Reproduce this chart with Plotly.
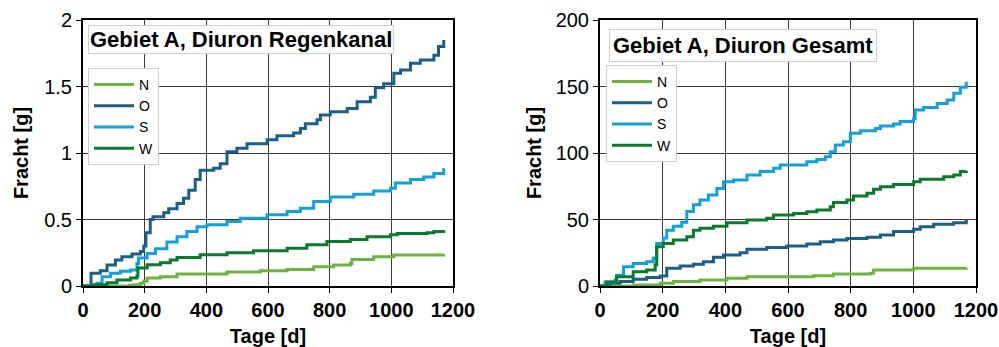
import plotly.graph_objects as go

# ---------------- data: left panel (Regenkanal) ----------------
L_N_d = [0, 150, 164, 186, 197, 208, 251, 305, 467, 575, 662, 748, 813, 867, 872, 943, 1008, 1170]
L_N_v = [0, 0.005, 0.01, 0.02, 0.035, 0.06, 0.07, 0.09, 0.105, 0.115, 0.125, 0.145, 0.158, 0.17, 0.2, 0.22, 0.233, 0.238]

L_O_d = [0, 26, 56, 78, 105, 126, 159, 186, 197, 204, 218, 227, 262, 278, 305, 326, 343, 364, 380, 424, 445, 467, 499, 532,
         597, 629, 683, 705, 721, 759, 770, 802, 857, 889, 932, 948, 975, 1008, 1030, 1062, 1094, 1138, 1153, 1170]
L_O_v = [0, 0.095, 0.115, 0.158, 0.195, 0.22, 0.24, 0.26, 0.3, 0.4, 0.5, 0.52, 0.55, 0.58, 0.62, 0.66, 0.72, 0.8, 0.87, 0.885, 0.92, 1.01, 1.035, 1.07,
         1.1, 1.13, 1.15, 1.185, 1.22, 1.25, 1.285, 1.31, 1.335, 1.385, 1.42, 1.49, 1.52, 1.6, 1.625, 1.675, 1.7, 1.735, 1.8, 1.85]

L_S_d = [0, 45, 62, 89, 121, 154, 175, 180, 208, 235, 272, 305, 337, 370, 402, 467, 510, 597, 662, 705, 748, 802, 878, 943, 997, 1013, 1062, 1105, 1138, 1170]
L_S_v = [0, 0.02, 0.07, 0.095, 0.11, 0.12, 0.17, 0.21, 0.245, 0.28, 0.33, 0.37, 0.41, 0.445, 0.46, 0.485, 0.51, 0.535, 0.56, 0.585, 0.635, 0.67, 0.69, 0.715, 0.735, 0.775, 0.8, 0.82, 0.845, 0.885]

L_W_d = [0, 35, 78, 110, 154, 175, 178, 208, 251, 283, 305, 380, 467, 553, 662, 726, 791, 867, 921, 997, 1019, 1116, 1138, 1170]
L_W_v = [0, 0.01, 0.025, 0.045, 0.06, 0.075, 0.135, 0.16, 0.175, 0.195, 0.215, 0.235, 0.25, 0.265, 0.283, 0.31, 0.335, 0.35, 0.37, 0.385, 0.395, 0.4, 0.41, 0.42]

# ---------------- data: right panel (Gesamt) ----------------
R_N_d = [0, 106, 192, 234, 319, 405, 469, 639, 682, 745, 863, 873, 1001, 1169]
R_N_v = [0, 0.7, 2, 3.3, 4.5, 5.8, 7, 7, 7.8, 9, 9.5, 12, 13.3, 13.8]

R_O_d = [0, 32, 64, 106, 149, 192, 213, 256, 298, 330, 362, 394, 447, 469, 532, 596, 660, 703, 745, 788, 852, 895, 937, 1001, 1022, 1065, 1129, 1169]
R_O_v = [0, 2, 3.3, 5, 6.3, 7.5, 13.3, 15, 16.3, 18.3, 21.6, 23.3, 25, 27.6, 29, 30, 31.6, 33.3, 34.6, 35.8, 36.6, 38.3, 40.9, 42.6, 44.6, 46.4, 47.6, 49.6]

R_S_d = [0, 16, 48, 53, 75, 106, 149, 170, 181, 202, 213, 234, 261, 277, 298, 319, 346, 373, 394, 426, 469, 511, 554, 575, 639, 660, 692, 719,
         735, 751, 777, 799, 831, 879, 895, 937, 958, 1001, 1006, 1033, 1076, 1108, 1129, 1150, 1169]
R_S_v = [0, 3, 4.5, 8, 14.5, 17, 18.3, 21, 32, 36, 42, 45, 48, 56, 61, 64.7, 68.4, 73.4, 78.4, 79.7, 83.5, 86, 88.5, 91, 91, 93.5, 95.2, 97.2,
         101, 106, 108.5, 114.8, 116.8, 118.5, 120.3, 121.8, 123.6, 126, 132.3, 134.3, 137.3, 139.8, 144.9, 149.4, 153.6]

R_W_d = [0, 21, 53, 106, 149, 176, 181, 202, 234, 277, 298, 319, 362, 405, 469, 532, 554, 618, 660, 692, 735, 745, 788, 809, 852, 873, 895,
         937, 1001, 1022, 1097, 1129, 1150, 1169]
R_W_v = [0, 3, 7, 10.8, 12, 15.8, 29.6, 32, 34.6, 37, 42, 43.4, 45, 47.6, 49.6, 50.9, 53.4, 54.6, 55.9, 57.1, 59.6, 62.7, 64.7, 67.7, 69.7, 72.7, 74.7,
         76.4, 78.4, 80.2, 82.2, 83.5, 86, 86.7]

series_names = ["N", "O", "S", "W"]
colors = {"N": "#6DB33F", "O": "#1C5E88", "S": "#14A0D8", "W": "#0B7A2E"}

titles = ["Gebiet A, Diuron Regenkanal", "Gebiet A, Diuron Gesamt"]
x_ticks = [0, 200, 400, 600, 800, 1000, 1200]
yL_ticks = [0, 0.5, 1, 1.5, 2]
yL_labels = ["0", "0.5", "1", "1.5", "2"]
yR_ticks = [0, 50, 100, 150, 200]

FONT = "Liberation Sans, Arial, sans-serif"

fig = go.Figure()

left = {"N": (L_N_d, L_N_v), "O": (L_O_d, L_O_v), "S": (L_S_d, L_S_v), "W": (L_W_d, L_W_v)}
right = {"N": (R_N_d, R_N_v), "O": (R_O_d, R_O_v), "S": (R_S_d, R_S_v), "W": (R_W_d, R_W_v)}

for name in series_names:
    d, v = left[name]
    fig.add_trace(go.Scatter(x=d, y=v, mode="lines", name=name, line=dict(color=colors[name], width=3, shape="hv"),
                             xaxis="x", yaxis="y", legend="legend"))
for name in series_names:
    d, v = right[name]
    fig.add_trace(go.Scatter(x=d, y=v, mode="lines", name=name, line=dict(color=colors[name], width=3, shape="hv"),
                             xaxis="x2", yaxis="y2", legend="legend2"))

W, H = 999, 347


def px(x):
    return x / W


def py(y):
    return 1 - y / H


xdomL = [px(83), px(453)]
xdomR = [px(600), px(976)]
ydom = [py(286), py(20)]

axis_common = dict(showline=True, linecolor="black", linewidth=2, mirror=True, showgrid=True,
                   gridcolor="#3a3a3a", gridwidth=1, zeroline=False, ticks="outside", ticklen=5,
                   tickcolor="black", tickwidth=1, automargin=False)

xa = dict(axis_common, range=[0, 1200], tickvals=x_ticks,
          tickfont=dict(family=FONT, size=20, color="black", weight="bold"),
          title=dict(text="Tage [d]", font=dict(family=FONT, size=20, color="black", weight="bold"), standoff=9))
ya_font = dict(family=FONT, size=20, color="black")
yt_font = dict(family=FONT, size=20, color="black", weight="bold")
fig.update_layout(
    xaxis=dict(xa, domain=xdomL, anchor="y"),
    xaxis2=dict(xa, domain=xdomR, anchor="y2"),
    yaxis=dict(axis_common, domain=ydom, anchor="x", range=[0, 2], tickvals=yL_ticks, ticktext=yL_labels,
               tickfont=ya_font, title=dict(text="Fracht [g]", font=yt_font, standoff=10)),
    yaxis2=dict(axis_common, domain=ydom, anchor="x2", range=[0, 200], tickvals=yR_ticks,
                tickfont=ya_font, title=dict(text="Fracht [g]", font=yt_font, standoff=9)),
)

leg_common = dict(bgcolor="white", bordercolor="#cfcfcf", borderwidth=1, font=dict(family=FONT, size=14, color="black"),
                  xanchor="left", yanchor="top", tracegroupgap=0, itemwidth=40)
fig.update_layout(
    legend=dict(leg_common, x=px(88), y=py(68)),
    legend2=dict(leg_common, x=px(606), y=py(65)),
)

fig.add_annotation(text="<b>" + titles[0] + "</b>", xref="paper", yref="paper", x=px(88), y=py(25),
                   xanchor="left", yanchor="top", showarrow=False, bgcolor="white", bordercolor="#cfcfcf",
                   borderwidth=1, borderpad=1, font=dict(family=FONT, size=22, color="black"))
fig.add_annotation(text="<b>" + titles[1] + "</b>", xref="paper", yref="paper", x=px(609), y=py(29),
                   xanchor="left", yanchor="top", showarrow=False, bgcolor="white", bordercolor="#cfcfcf",
                   borderwidth=1, borderpad=3, font=dict(family=FONT, size=22, color="black"))

fig.update_layout(width=W, height=H, margin=dict(l=0, r=0, t=0, b=0), plot_bgcolor="white",
                  paper_bgcolor="white", showlegend=True)

# remove the default 8px body margin so the figure fills the window exactly
fig.write_html("out.html", config={"displayModeBar": False},
               post_script="document.body.style.margin='0';document.body.style.overflow='hidden';")
